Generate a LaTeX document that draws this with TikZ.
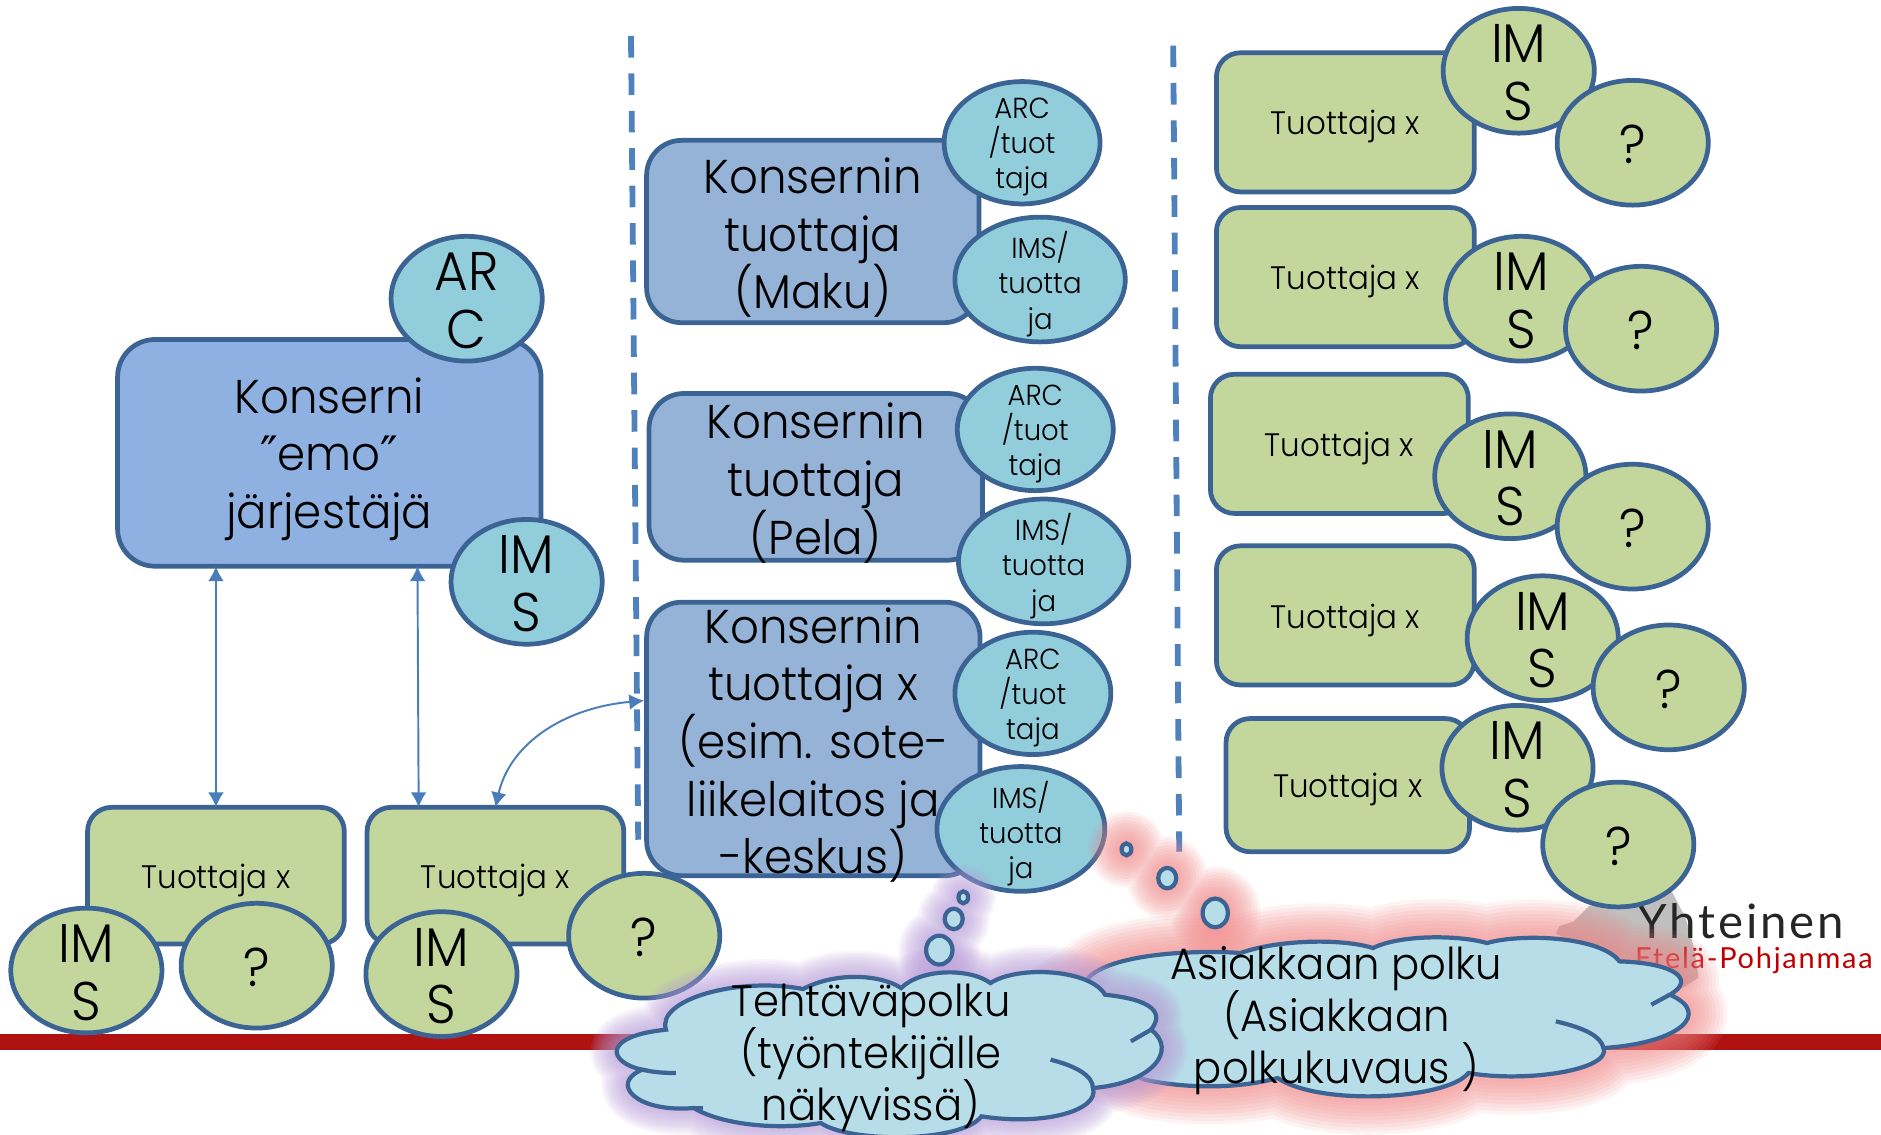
\documentclass[tikz,border=0pt]{standalone}
\usepackage{fontspec}
\setmainfont{Poppins Light}[FakeStretch=0.95]
\newfontfamily\logofont{Lato}
\newfontfamily\qf{DejaVu Sans}
\usetikzlibrary{shapes.geometric,arrows.meta}
\definecolor{edge}{HTML}{3B6494}
\definecolor{emo}{HTML}{8EB1E1}
\definecolor{mid}{HTML}{95B3D7}
\definecolor{grn}{HTML}{C3D69B}
\definecolor{aqua}{HTML}{92CDDC}
\definecolor{cld}{HTML}{B7DDE8}
\definecolor{arr}{HTML}{4A7EBB}
\definecolor{dsh}{HTML}{4F81BD}
\definecolor{bar}{HTML}{B01212}
\definecolor{glr}{HTML}{F08585}
\definecolor{glp}{HTML}{B79BD8}
\newcommand\zr{-0.36em}
\newcommand\fsb{\fontsize{27}{32.8}\selectfont\renewcommand\zr{-0.36em}}
\newcommand\fse{\fontsize{31}{32.8}\selectfont\renewcommand\zr{-0.235em}}
\newcommand\fsc{\fontsize{25}{29.4}\selectfont\renewcommand\zr{-0.38em}}
\newcommand\fss{\fontsize{16.5}{20}\selectfont\renewcommand\zr{-0.42em}}
\newcommand\fst{\fontsize{18.5}{22}\selectfont\renewcommand\zr{-0.375em}}
\newcommand\zt[1]{\raisebox{\zr}[0pt][0pt]{\makebox[0pt]{\smash{\parbox[c]{12cm}{\centering\lineskiplimit=-100pt #1}}}}}
\newcommand\bx[7]{\node[#6,minimum width={(#4-#2)*0.024cm},minimum height={(#5-#3)*0.024cm}] (#1) at ({(#2+#4)/2},{(#3+#5)/2}) {\zt{#7}};}
\newcommand\el[7]{\node[#6,minimum width={2*#4*0.024cm},minimum height={2*#5*0.024cm}] (#1) at (#2,#3) {\zt{#7}};}
\newcommand\cloudone{(238,750) .. controls (215,660) and (400,590) .. (545,628)
 .. controls (620,575) and (720,585) .. (765,625)
 .. controls (810,565) and (920,565) .. (965,610)
 .. controls (1030,555) and (1190,570) .. (1222,645)
 .. controls (1330,660) and (1355,700) .. (1325,750)
 .. controls (1385,810) and (1330,910) .. (1195,925)
 .. controls (1210,990) and (1090,1040) .. (945,1010)
 .. controls (900,1090) and (650,1090) .. (585,1030)
 .. controls (500,1050) and (370,1040) .. (300,985)
 .. controls (170,1000) and (110,910) .. (185,870)
 .. controls (110,850) and (90,770) .. (238,750) -- cycle}
\newcommand\cloudtwo{(70,600) .. controls (110,520) and (280,510) .. (360,520)
 .. controls (430,480) and (550,475) .. (610,505)
 .. controls (660,465) and (770,465) .. (825,490)
 .. controls (890,460) and (1040,470) .. (1075,545)
 .. controls (1180,550) and (1220,600) .. (1170,645)
 .. controls (1250,700) and (1190,790) .. (1045,805)
 .. controls (1060,870) and (900,910) .. (790,880)
 .. controls (750,960) and (510,980) .. (430,895)
 .. controls (350,930) and (250,925) .. (180,900)
 -- (20,800) -- (20,650) -- cycle}
\tikzset{
 shp/.style={draw=edge,line width=2.7pt,inner sep=0pt,outer sep=0pt},
 emobox/.style={shp,rectangle,rounded corners=0.75cm,fill=emo,font=\fsb},
 midbox/.style={shp,rectangle,rounded corners=0.7cm,fill=mid,font=\fsb},
 grnbox/.style={shp,rectangle,rounded corners=0.48cm,fill=grn,font=\fst},
 bigaqua/.style={shp,ellipse,fill=aqua,font=\fse},
 smlaqua/.style={shp,ellipse,fill=aqua,font=\fss},
 biggrn/.style={shp,ellipse,fill=grn,font=\fse},
 link/.style={draw=arr,line width=1.1pt,{Latex[length=8.5pt,width=9pt]}-{Latex[length=8.5pt,width=9pt]}},
 sep/.style={draw=dsh,line width=3.3pt,dash pattern=on 12.3pt off 9pt},
 cloudln/.style={draw=edge,line width=2.4pt,line join=miter},
 txt/.style={font=\fsc,inner sep=0pt},
}
\begin{document}
\begin{tikzpicture}[x=0.024cm,y=-0.024cm]
\useasboundingbox (0,0) rectangle (1568,946);
% red bar
\fill[bar] (0,862) rectangle (1568,875);
% dashed separators
\coordinate (d1a) at (526,30); \coordinate (d1b) at (532,700);
\coordinate (d2a) at (978,38); \coordinate (d2b) at (983,710);
\draw[sep] (d1a) -- (d1b);
\draw[sep] (d2a) -- (d2b);
% logo
\fill[black!25] (1297,778) -- (1300,772) -- (1312,768) -- (1325,755) -- (1392,740) -- (1405,765) -- (1412,790) -- (1416,815) -- (1400,825) -- (1340,800) -- cycle;
\node[font=\logofont\fontsize{27}{30}\selectfont,text=black!85,inner sep=0pt] (yh) at (1451,768) {\addfontfeature{LetterSpace=6}Yhteinen};
\node[font=\logofont\fontsize{16.5}{19}\selectfont,text=red!75!black,inner sep=0pt] (ep) at (1462,801) {\addfontfeature{LetterSpace=6}Etelä-Pohjanmaa};
% left group
\bx{kons}{98}{283}{451}{472}{emobox}{Konserni\\ {\qf ″}emo{\qf ″}\\ järjestäjä}
\el{karc}{389}{249}{63}{52}{bigaqua}{AR\\C}
\el{kims}{439}{485}{63}{52}{bigaqua}{IM\\S}
\bx{t1}{73}{673}{287}{787}{grnbox}{Tuottaja x}
\el{t1i}{72}{809}{63}{52}{biggrn}{IM\\S}
\el{t1q}{214}{805}{63}{52}{biggrn}{?}
\bx{t2}{306}{673}{520}{787}{grnbox}{Tuottaja x}
\el{t2i}{368}{812}{63}{52}{biggrn}{IM\\S}
\el{t2q}{537}{780}{63}{52}{biggrn}{?}
% middle group
\bx{maku}{539}{117}{816}{269}{midbox}{Konsernin\\ tuottaja\\ (Maku)}
\el{maa}{852}{119}{65}{51}{smlaqua}{ARC\\ /tuot\\ taja}
\el{mai}{867}{233}{71}{52}{smlaqua}{IMS/\\ tuotta\\ ja}
\bx{pela}{541}{328}{819}{467}{midbox}{Konsernin\\ tuottaja\\ (Pela)}
\el{pea}{863}{358}{65}{51}{smlaqua}{ARC\\ /tuot\\ taja}
\el{pei}{870}{468}{71}{52}{smlaqua}{IMS/\\ tuotta\\ ja}
\bx{xbox}{539}{502}{817}{730}{midbox}{Konsernin\\ tuottaja x\\ (esim. sote-\\ liikelaitos ja\\ -keskus)}
\el{xa}{861}{578}{65}{51}{smlaqua}{ARC\\ /tuot\\ taja}
\el{xi}{851}{691}{70}{52}{smlaqua}{IMS/\\ tuotta\\ ja}
% right group
\bx{r1}{1014}{44}{1229}{160}{grnbox}{Tuottaja x}
\el{r1i}{1266}{59}{63}{52}{biggrn}{IM\\S}
\el{r1q}{1361}{119}{63}{52}{biggrn}{?}
\bx{r2}{1014}{173}{1229}{289}{grnbox}{Tuottaja x}
\el{r2i}{1268}{249}{63}{52}{biggrn}{IM\\S}
\el{r2q}{1368}{274}{63}{52}{biggrn}{?}
\bx{r3}{1009}{312}{1224}{428}{grnbox}{Tuottaja x}
\el{r3i}{1259}{397}{63}{52}{biggrn}{IM\\S}
\el{r3q}{1361}{439}{63}{52}{biggrn}{?}
\bx{r4}{1014}{455}{1229}{571}{grnbox}{Tuottaja x}
\el{r4i}{1286}{532}{63}{52}{biggrn}{IM\\S}
\el{r4q}{1391}{573}{63}{52}{biggrn}{?}
\bx{r5}{1022}{599}{1225}{710}{grnbox}{Tuottaja x}
\el{r5i}{1265}{640}{63}{52}{biggrn}{IM\\S}
\el{r5q}{1349}{704}{63}{52}{biggrn}{?}
% connectors
\coordinate (c2a) at (348,472); \coordinate (c2b) at (349,673);
\coordinate (c3) at (537,584);
\draw[link] (kons.south -| t1.north) -- (t1.north);
\draw[link] (c2a) -- (c2b);
\draw[link] (t2.north) .. controls (425,620) and (470,590) .. (c3);
% red glow with bubbles
\foreach \w in {64,58,...,4}{
 \begin{scope}[shift={(875,650)},x=0.0106cm,y=-0.006667cm]
  \draw[draw=glr,fill=glr,opacity=0.1,line width=\w*0.024cm,line join=round] \cloudtwo;
 \end{scope}
 \draw[draw=glr,fill=glr,opacity=0.1,line width=0.8*\w*0.024cm] (939,708) ellipse [x radius=6,y radius=6] (973,732) ellipse [x radius=8,y radius=9] (1013,761) ellipse [x radius=12,y radius=13];
}
% Asiakkaan cloud
\begin{scope}[shift={(875,650)},x=0.0106cm,y=-0.006667cm]
 \draw[cloudln,fill=cld] \cloudtwo;
 \draw[cloudln] (1135,675) -- (1170,645);
 \draw[cloudln] (955,725) .. controls (1010,745) and (1040,770) .. (1045,805);
\end{scope}
\foreach \x/\y/\rx/\ry in {939/708/4/5,973/732/7.5/8.5,1013/761/10.5/12}{
 \draw[cloudln,fill=cld] (\x,\y) ellipse [x radius=\rx,y radius=\ry];
}
% purple glow with bubbles
\foreach \w in {44,40,...,4}{
 \begin{scope}[shift={(466.7,650)},x=0.008929cm,y=-0.006667cm]
  \draw[draw=glp,fill=glp,opacity=0.1,line width=\w*0.024cm,line join=round] \cloudone;
 \end{scope}
 \draw[draw=glp,fill=glp,opacity=0.1,line width=\w*0.024cm] (803,748) ellipse [x radius=5,y radius=5] (795,766) ellipse [x radius=8,y radius=9] (783,792) ellipse [x radius=12,y radius=13];
}
% Tehtava cloud
\begin{scope}[shift={(466.7,650)},x=0.008929cm,y=-0.006667cm]
 \draw[cloudln,fill=cld] \cloudone;
 \draw[cloudln] (1280,785) -- (1325,750);
 \draw[cloudln] (1100,840) .. controls (1160,860) and (1195,890) .. (1195,925);
 \draw[cloudln] (185,870) .. controls (210,878) and (235,880) .. (260,880);
 \draw[cloudln] (320,985) -- (300,985);
\end{scope}
\foreach \x/\y/\rx/\ry in {803/748/4/5,795/766/7.5/8.5,783/792/11/12}{
 \draw[cloudln,fill=cld] (\x,\y) ellipse [x radius=\rx,y radius=\ry];
}
% cloud labels
\node[txt] (asi) at (1114,846) {\zt{Asiakkaan polku\\ (Asiakkaan\\ polkukuvaus )}};
\node[txt] (teh) at (726,877) {\zt{Tehtäväpolku\\ (työntekijälle\\ näkyvissä)}};
\end{tikzpicture}
\end{document}
